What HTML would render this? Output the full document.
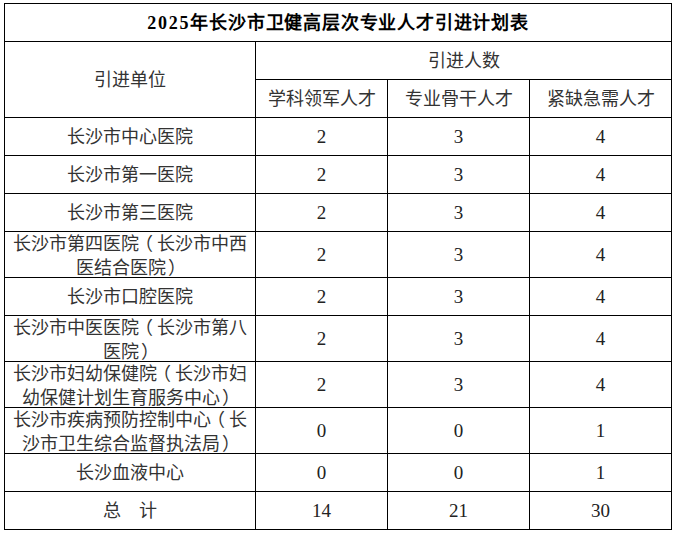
<!DOCTYPE html>
<html lang="zh-CN"><head><meta charset="utf-8">
<style>
html,body{margin:0;padding:0;background:#fff;}
body{width:677px;height:535px;position:relative;overflow:hidden;font-family:"Liberation Serif",serif;color:#000;}
.l{position:absolute;background:#000;}
.c{position:absolute;display:flex;align-items:center;justify-content:center;text-align:center;}
.t{font-size:18px;line-height:24px;color:#333;}
.n{font-size:19px;line-height:24px;color:#222;}
.title i{font-style:normal;letter-spacing:1.8px;}
em{font-style:normal;position:relative;}
.lp{left:-4px;}
.rp{left:2px;}
.d span{position:relative;top:1px;}
.title{font-size:18px;font-weight:bold;letter-spacing:0.8px;line-height:24px;}
</style></head><body>
<div class="l" style="left:4px;top:3px;width:668px;height:1px"></div><div class="l" style="left:4px;top:41px;width:668px;height:1px"></div><div class="l" style="left:4px;top:117px;width:668px;height:1px"></div><div class="l" style="left:4px;top:155px;width:668px;height:1px"></div><div class="l" style="left:4px;top:193px;width:668px;height:1px"></div><div class="l" style="left:4px;top:231px;width:668px;height:1px"></div><div class="l" style="left:4px;top:277px;width:668px;height:1px"></div><div class="l" style="left:4px;top:315px;width:668px;height:1px"></div><div class="l" style="left:4px;top:361px;width:668px;height:1px"></div><div class="l" style="left:4px;top:407px;width:668px;height:1px"></div><div class="l" style="left:4px;top:453px;width:668px;height:1px"></div><div class="l" style="left:4px;top:491px;width:668px;height:1px"></div><div class="l" style="left:4px;top:529px;width:668px;height:1px"></div><div class="l" style="left:255px;top:79px;width:417px;height:1px"></div><div class="l" style="left:4px;top:3px;width:1px;height:527px"></div><div class="l" style="left:671px;top:3px;width:1px;height:527px"></div><div class="l" style="left:255px;top:41px;width:1px;height:489px"></div><div class="l" style="left:387px;top:79px;width:1px;height:451px"></div><div class="l" style="left:529px;top:79px;width:1px;height:451px"></div>
<div class="c title" style="left:5px;top:4px;width:666px;height:37px"><span><i>2025</i>年长沙市卫健高层次专业人才引进计划表</span></div><div class="c t" style="left:5px;top:42px;width:250px;height:75px"><span>引进单位</span></div><div class="c t" style="left:256px;top:42px;width:415px;height:37px"><span>引进人数</span></div><div class="c t" style="left:256px;top:80px;width:131px;height:37px"><span>学科领军人才</span></div><div class="c t" style="left:388px;top:80px;width:141px;height:37px"><span>专业骨干人才</span></div><div class="c t" style="left:530px;top:80px;width:141px;height:37px"><span>紧缺急需人才</span></div><div class="c t" style="left:5px;top:118px;width:250px;height:37px"><span>长沙市中心医院</span></div><div class="c n" style="left:256px;top:118px;width:131px;height:37px"><span>2</span></div><div class="c n" style="left:388px;top:118px;width:141px;height:37px"><span>3</span></div><div class="c n" style="left:530px;top:118px;width:141px;height:37px"><span>4</span></div><div class="c t" style="left:5px;top:156px;width:250px;height:37px"><span>长沙市第一医院</span></div><div class="c n" style="left:256px;top:156px;width:131px;height:37px"><span>2</span></div><div class="c n" style="left:388px;top:156px;width:141px;height:37px"><span>3</span></div><div class="c n" style="left:530px;top:156px;width:141px;height:37px"><span>4</span></div><div class="c t" style="left:5px;top:194px;width:250px;height:37px"><span>长沙市第三医院</span></div><div class="c n" style="left:256px;top:194px;width:131px;height:37px"><span>2</span></div><div class="c n" style="left:388px;top:194px;width:141px;height:37px"><span>3</span></div><div class="c n" style="left:530px;top:194px;width:141px;height:37px"><span>4</span></div><div class="c t d" style="left:5px;top:232px;width:250px;height:45px"><span>长沙市第四医院<em class="lp">（</em>长沙市中西<br>医结合医院<em class="rp">）</em></span></div><div class="c n" style="left:256px;top:232px;width:131px;height:45px"><span>2</span></div><div class="c n" style="left:388px;top:232px;width:141px;height:45px"><span>3</span></div><div class="c n" style="left:530px;top:232px;width:141px;height:45px"><span>4</span></div><div class="c t" style="left:5px;top:278px;width:250px;height:37px"><span>长沙市口腔医院</span></div><div class="c n" style="left:256px;top:278px;width:131px;height:37px"><span>2</span></div><div class="c n" style="left:388px;top:278px;width:141px;height:37px"><span>3</span></div><div class="c n" style="left:530px;top:278px;width:141px;height:37px"><span>4</span></div><div class="c t d" style="left:5px;top:316px;width:250px;height:45px"><span>长沙市中医医院<em class="lp">（</em>长沙市第八<br>医院<em class="rp">）</em></span></div><div class="c n" style="left:256px;top:316px;width:131px;height:45px"><span>2</span></div><div class="c n" style="left:388px;top:316px;width:141px;height:45px"><span>3</span></div><div class="c n" style="left:530px;top:316px;width:141px;height:45px"><span>4</span></div><div class="c t d" style="left:5px;top:362px;width:250px;height:45px"><span>长沙市妇幼保健院<em class="lp">（</em>长沙市妇<br>幼保健计划生育服务中心<em class="rp">）</em></span></div><div class="c n" style="left:256px;top:362px;width:131px;height:45px"><span>2</span></div><div class="c n" style="left:388px;top:362px;width:141px;height:45px"><span>3</span></div><div class="c n" style="left:530px;top:362px;width:141px;height:45px"><span>4</span></div><div class="c t d" style="left:5px;top:408px;width:250px;height:45px"><span>长沙市疾病预防控制中心<em class="lp">（</em>长<br>沙市卫生综合监督执法局<em class="rp">）</em></span></div><div class="c n" style="left:256px;top:408px;width:131px;height:45px"><span>0</span></div><div class="c n" style="left:388px;top:408px;width:141px;height:45px"><span>0</span></div><div class="c n" style="left:530px;top:408px;width:141px;height:45px"><span>1</span></div><div class="c t" style="left:5px;top:454px;width:250px;height:37px"><span>长沙血液中心</span></div><div class="c n" style="left:256px;top:454px;width:131px;height:37px"><span>0</span></div><div class="c n" style="left:388px;top:454px;width:141px;height:37px"><span>0</span></div><div class="c n" style="left:530px;top:454px;width:141px;height:37px"><span>1</span></div><div class="c t" style="left:5px;top:492px;width:250px;height:37px"><span>总&emsp;计</span></div><div class="c n" style="left:256px;top:492px;width:131px;height:37px"><span>14</span></div><div class="c n" style="left:388px;top:492px;width:141px;height:37px"><span>21</span></div><div class="c n" style="left:530px;top:492px;width:141px;height:37px"><span>30</span></div>
</body></html>
